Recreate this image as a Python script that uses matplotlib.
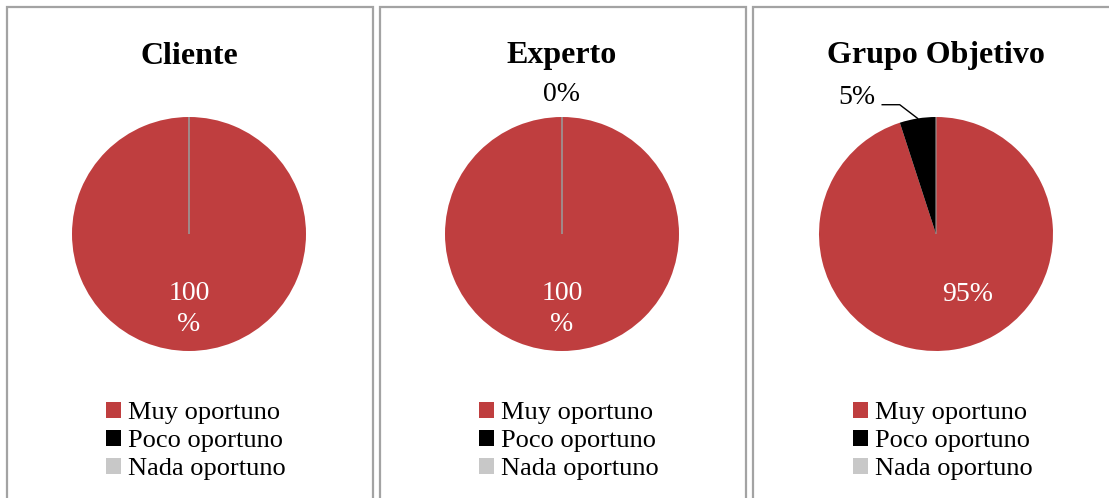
import matplotlib
matplotlib.use("Agg")
import matplotlib.pyplot as plt
from matplotlib.patches import Rectangle, Patch
import numpy as np

# Data
categories = ["Muy oportuno", "Poco oportuno", "Nada oportuno"]
panel_titles = ["Cliente", "Experto", "Grupo Objetivo"]
cliente_values = [100, 0, 0]
experto_values = [100, 0, 0]
grupo_values = [95, 5, 0]
colors = ["#bf3e3f", "#000000", "#c8c8c8"]

W, H = 1109, 498
fig = plt.figure(figsize=(W / 100, H / 100), dpi=100)
fig.patch.set_facecolor("white")


def fx(x):
    return x / W


def fy(y):
    return 1 - y / H


# Panel frames
panel_edges = [(7, 373), (380, 746), (753, 1125)]
for left, right in panel_edges:
    fig.patches.append(Rectangle((fx(left), fy(520)), fx(right) - fx(left), fy(7) - fy(520),
                                 transform=fig.transFigure, fill=False,
                                 edgecolor="#a3a3a3", linewidth=1.6, zorder=0))

centers = [(189, 234), (562, 234), (936, 234)]
R = 117
all_values = [cliente_values, experto_values, grupo_values]

# Per-panel label settings: which slice index, position (in radius units) and alignment
label_specs = [
    [(0, (0.0, -0.64), "center")],
    [(0, (0.0, -0.64), "center"), (1, (0.0, 1.19), "center")],
    [(0, (0.27, -0.52), "center"), (1, (-0.52, 1.17), "right")],
]

for idx, (title, values, (cx, cy)) in enumerate(zip(panel_titles, all_values, centers)):
    ax = fig.add_axes([fx(cx - R), fy(cy + R), 2 * R / W, 2 * R / H])
    wedges, _ = ax.pie(values, colors=colors, startangle=90, counterclock=False,
                       radius=1, wedgeprops=dict(linewidth=0))
    for w, v in zip(wedges, values):
        if v == 0:
            w.set_edgecolor("#9a9a9a")
            w.set_linewidth(0.8)
    ax.set_xlim(-1, 1)
    ax.set_ylim(-1, 1)
    ax.set_aspect("equal")
    ax.axis("off")

    total = sum(values)
    for slice_idx, (lx, ly), ha in label_specs[idx]:
        v = values[slice_idx]
        pct = round(100 * v / total)
        text = f"{pct}\n%" if pct >= 100 else f"{pct}%"
        inside = ly < 1 and abs(lx) < 1 and pct > 50
        ax.text(lx, ly, text, ha=ha, va="center", family="Liberation Serif",
                fontsize=20, color="white" if inside else "black",
                linespacing=1.3, clip_on=False)
        if ha == "right":
            w = wedges[slice_idx]
            mid = np.deg2rad((w.theta1 + w.theta2) / 2)
            ex, ey = np.cos(mid), np.sin(mid)
            ax.plot([-0.46, -0.31, ex], [1.105, 1.105, ey], color="black",
                    linewidth=1.0, clip_on=False)

    fig.text(fx(cx), fy(56), title, ha="center", va="center",
             family="Liberation Serif", fontweight="bold", fontsize=23)

    handles = [Patch(facecolor=c, edgecolor="none") for c in colors]
    ax.legend(handles, categories, loc="upper left",
              bbox_to_anchor=(fx(cx - 83), fy(402)), bbox_transform=fig.transFigure,
              frameon=False, borderpad=0, borderaxespad=0, handlelength=0.55,
              handleheight=0.55, handletextpad=0.3, labelspacing=0.22,
              prop=dict(family="Liberation Serif", size=19))

fig.savefig("out.png", dpi=100, facecolor="white")
